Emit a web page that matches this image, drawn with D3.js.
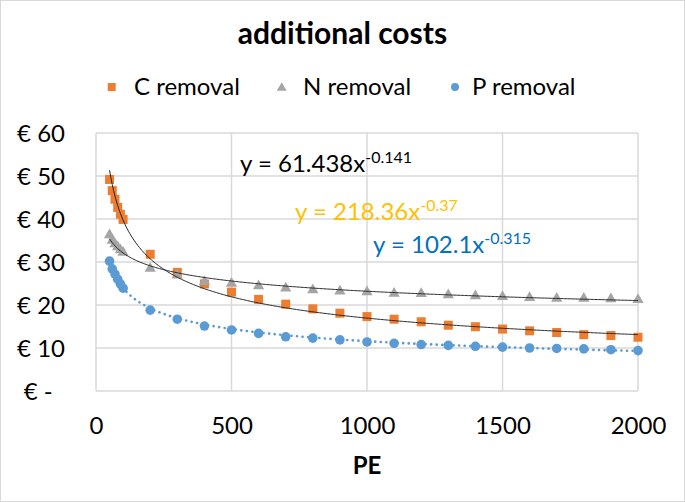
<!DOCTYPE html>
<html><head><meta charset="utf-8">
<script src="https://cdn.jsdelivr.net/npm/d3@7"></script>
<style>
body{margin:0;background:#fff}
text{font-family:Lato,"Open Sans",sans-serif;fill:#000}
</style></head>
<body><svg id="c" width="685" height="502"></svg>
<script>
const peValues=[50,60,70,80,90,100,200,300,400,500,600,700,800,900,1000,1100,1200,1300,1400,1500,1600,1700,1800,1900,2000];
const cRemoval=[49.2,46.6,44.6,42.7,41.1,39.9,31.8,27.6,24.9,23.0,21.3,20.2,19.1,18.1,17.3,16.7,16.1,15.3,14.95,14.4,14.0,13.6,13.1,12.9,12.5];
const nRemoval=[36.3,35.0,34.2,33.5,32.8,32.2,28.5,26.9,25.4,25.0,24.4,23.9,23.5,23.2,23.0,22.7,22.6,22.3,22.1,21.9,21.7,21.5,21.5,21.4,21.2];
const pRemoval=[30.2,28.4,27.2,26.0,24.9,23.9,18.8,16.7,15.1,14.2,13.4,12.6,12.3,11.9,11.4,11.1,10.8,10.6,10.4,10.2,10.0,9.9,9.8,9.6,9.4];
const seriesNames=["C removal","N removal","P removal"];
const xTicks=[0,500,1000,1500,2000];
const yTicks=[0,10,20,30,40,50,60];
const yTickLabels=["€ -\u00a0\u00a0","€ 10","€ 20","€ 30","€ 40","€ 50","€ 60"];
const fitCoef=[218.36,61.438,102.1];
const fitExp=[-0.37,-0.141,-0.315];
const fitCoefLabels=["218.36","61.438","102.1"];
const fitExpLabels=["-0.37","-0.141","-0.315"];
const titleText="additional costs";
const xTitle="PE";

const svg=d3.select("#c");
const W=685,H=502;
const m={l:96,r:47,t:133,b:111};
const x=d3.scaleLinear().domain([0,2000]).range([m.l,W-m.r]);
const y=d3.scaleLinear().domain([0,60]).range([H-m.b,m.t]);
const colors=["#ed7d31","#a5a5a5","#5b9bd5"];
const eqColors=["#ffc000","#000000","#0070c0"];

svg.append("rect").attr("x",0.5).attr("y",0.5).attr("width",W-1).attr("height",H-1)
  .attr("fill","#fff").attr("stroke","#d9d9d9");

// gridlines
const grid=svg.append("g").attr("stroke","#d9d9d9").attr("stroke-width",1.5);
grid.selectAll(".h").data(yTicks).join("line")
  .attr("x1",x(0)).attr("x2",x(2000)).attr("y1",d=>y(d)).attr("y2",d=>y(d));
grid.selectAll(".v").data(xTicks).join("line")
  .attr("y1",y(0)).attr("y2",y(60)).attr("x1",d=>x(d)).attr("x2",d=>x(d));

// axes
const fs=24;
const ya=svg.append("g").attr("transform",`translate(${m.l},0)`)
  .call(d3.axisLeft(y).tickValues(yTicks).tickFormat((d,i)=>yTickLabels[i]).tickSize(0).tickPadding(31));
ya.select(".domain").remove();
ya.selectAll("text").style("font-size",fs+"px").style("font-family","Lato").attr("fill","#000").attr("dy","0.35em");
const xa=svg.append("g").attr("transform",`translate(0,${y(0)})`)
  .call(d3.axisBottom(x).tickValues(xTicks).tickFormat(d3.format("d")).tickSize(0).tickPadding(26));
xa.select(".domain").remove();
xa.selectAll("text").style("font-size",fs+"px").style("font-family","Lato").attr("fill","#000");

// markers
const mk=svg.append("g");
mk.selectAll(".c").data(peValues).join("rect")
  .attr("x",(d)=>x(d)-4.5).attr("y",(d,i)=>y(cRemoval[i])-4.5).attr("width",9).attr("height",9)
  .attr("fill",colors[0]);
const tri=d3.symbol().type(d3.symbolTriangle).size(55);
mk.selectAll(".n").data(peValues).join("path")
  .attr("d",tri).attr("transform",(d,i)=>`translate(${x(d)},${y(nRemoval[i])})`)
  .attr("fill",colors[1]);
mk.selectAll(".p").data(peValues).join("circle")
  .attr("cx",d=>x(d)).attr("cy",(d,i)=>y(pRemoval[i])).attr("r",4.8)
  .attr("fill",colors[2]);

// trendlines
const xs=d3.range(50,2001,5);
const line=d3.line().x(d=>x(d[0])).y(d=>y(d[1])).curve(d3.curveLinear);
[0,1].forEach(k=>{
  svg.append("path").datum(xs.map(v=>[v,fitCoef[k]*Math.pow(v,fitExp[k])]))
    .attr("d",line).attr("fill","none").attr("stroke","#262626").attr("stroke-width",1);
});
svg.append("path").datum(xs.map(v=>[v,fitCoef[2]*Math.pow(v,fitExp[2])]))
  .attr("d",line).attr("fill","none").attr("stroke",colors[2]).attr("stroke-width",2.6)
  .attr("stroke-linecap","round").attr("stroke-dasharray","0.1 5.5");

// equations
const eqPos=[[295,220],[240,172],[373,253]];
[1,0,2].forEach(k=>{
  const t=svg.append("text").attr("x",eqPos[k][0]).attr("y",eqPos[k][1])
    .style("font-size",fs+"px").attr("fill",eqColors[k]).style("fill",eqColors[k]);
  t.append("tspan").text(`y = ${fitCoefLabels[k]}x`);
  t.append("tspan").attr("dy",-9).style("font-size","16px").text(fitExpLabels[k]);
});

// title
svg.append("text").attr("x",342.5).attr("y",44).attr("text-anchor","middle")
  .style("font-size","30px").style("font-weight","bold").text(titleText);
// x title
svg.append("text").attr("x",367).attr("y",474).attr("text-anchor","middle")
  .style("font-size",fs+"px").style("font-weight","bold").text(xTitle);

// legend
const lg=svg.append("g");
const lx=[111.7,281.7,455], tx=[134,303,472];
lg.append("rect").attr("x",lx[0]-4).attr("y",87-4).attr("width",8).attr("height",8).attr("fill",colors[0]);
lg.append("path").attr("d",d3.symbol().type(d3.symbolTriangle).size(42)).attr("transform",`translate(${lx[1]},88)`).attr("fill",colors[1]);
lg.append("circle").attr("cx",lx[2]).attr("cy",87).attr("r",4).attr("fill",colors[2]);
seriesNames.forEach((s,i)=>{
  lg.append("text").attr("x",tx[i]).attr("y",94.5).style("font-size",fs+"px").text(s);
});
</script></body></html>
